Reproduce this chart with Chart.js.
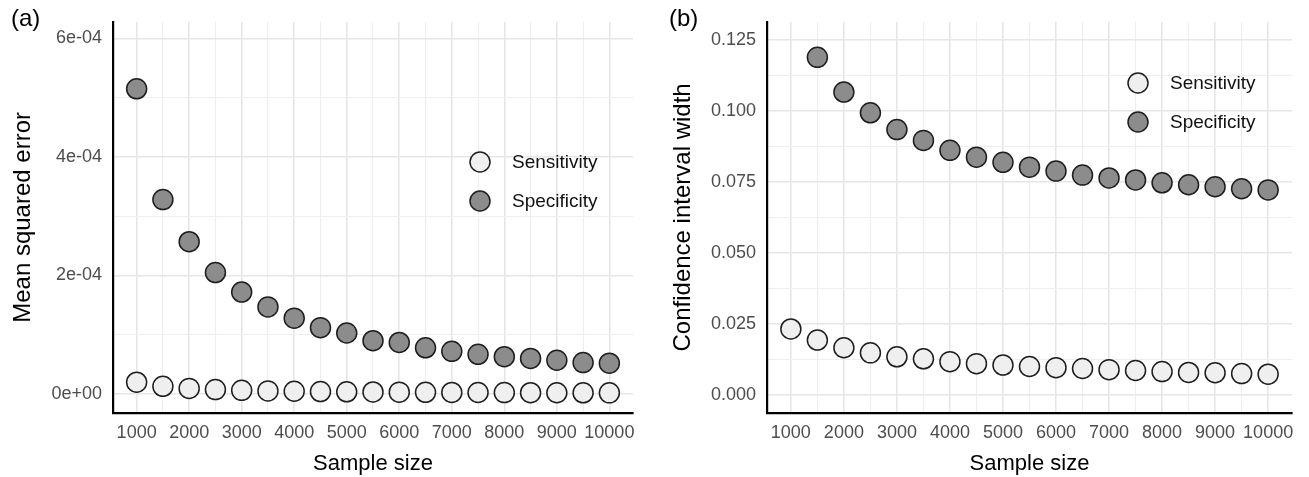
<!DOCTYPE html>
<html>
<head>
<meta charset="utf-8">
<script src="https://cdn.jsdelivr.net/npm/chart.js@4.4.1/dist/chart.umd.min.js"></script>
<style>
  html, body { margin: 0; padding: 0; background: #fff; }
  #wrap { position: relative; width: 1309px; height: 477px; overflow: hidden; }
  .panel { position: absolute; top: 0; height: 477px; }
  .tag { position: absolute; top: 4px; font: 24px "Liberation Sans", Arial, sans-serif; color: #000; }
</style>
</head>
<body>
<div id="wrap">
  <div class="panel" style="left:0;width:655px"><canvas id="ca" width="655" height="477"></canvas></div>
  <div class="panel" style="left:655px;width:654px"><canvas id="cb" width="654" height="477"></canvas></div>
  <div class="tag" style="left:11px">(a)</div>
  <div class="tag" style="left:669px">(b)</div>
</div>
<script>
// ---------------- data ----------------
const sampleSizes = [1000,1500,2000,2500,3000,3500,4000,4500,5000,5500,6000,6500,7000,7500,8000,8500,9000,9500,10000];
const seriesNames = ['Sensitivity', 'Specificity'];

// (a) mean squared error
const mseSensitivity = [2.0e-5,1.3e-5,0.95e-5,0.75e-5,0.62e-5,0.53e-5,0.47e-5,0.42e-5,0.38e-5,0.35e-5,0.32e-5,0.29e-5,0.27e-5,0.26e-5,0.24e-5,0.23e-5,0.22e-5,0.21e-5,0.2e-5];
const mseSpecificity = [5.15e-4,3.28e-4,2.57e-4,2.05e-4,1.72e-4,1.47e-4,1.28e-4,1.12e-4,1.03e-4,0.90e-4,0.87e-4,0.78e-4,0.72e-4,0.67e-4,0.63e-4,0.60e-4,0.57e-4,0.53e-4,0.52e-4];

// (b) confidence interval width
const ciSensitivity = [0.0233,0.0194,0.0167,0.0149,0.0135,0.0128,0.0118,0.0111,0.0106,0.0101,0.0097,0.0094,0.0090,0.0087,0.0083,0.0080,0.0079,0.0076,0.0074];
const ciSpecificity = [null,0.1188,0.1066,0.0993,0.0934,0.0896,0.0861,0.0837,0.0819,0.0802,0.0788,0.0774,0.0764,0.0757,0.0747,0.0740,0.0733,0.0726,0.0722];

// ticks
const xMajorTicks = [1000,2000,3000,4000,5000,6000,7000,8000,9000,10000];
const xMinorTicks = [1500,2500,3500,4500,5500,6500,7500,8500,9500];
const yTicksA = [0, 2e-4, 4e-4, 6e-4];
const yTickLabelsA = ['0e+00', '2e-04', '4e-04', '6e-04'];
const yMinorTicksA = [1e-4, 3e-4, 5e-4];
const yTicksB = [0, 0.025, 0.05, 0.075, 0.1, 0.125];
const yTickLabelsB = ['0.000', '0.025', '0.050', '0.075', '0.100', '0.125'];
const yMinorTicksB = [0.0125, 0.0375, 0.0625, 0.0875, 0.1125];

// ---------------- style ----------------
const FONT = '"Liberation Sans", Arial, sans-serif';
const fillColors = ['#efefef', '#8c8c8c'];
const edgeColor = '#1e1e1e';

function toPoints(xs, ys) {
  const out = [];
  xs.forEach((x, i) => { if (ys[i] !== null) out.push({x: x, y: ys[i]}); });
  return out;
}

function legendPlugin(pos) {
  return {
    id: 'customLegend',
    afterDraw(chart) {
      const ctx = chart.ctx;
      ctx.save();
      seriesNames.forEach((name, i) => {
        const cx = pos.x, cy = pos.y + i * 39;
        ctx.beginPath();
        ctx.arc(cx, cy, 10, 0, Math.PI * 2);
        ctx.fillStyle = fillColors[i];
        ctx.fill();
        ctx.lineWidth = 1.5;
        ctx.strokeStyle = edgeColor;
        ctx.stroke();
        ctx.fillStyle = '#111';
        ctx.font = '19px ' + FONT;
        ctx.textBaseline = 'middle';
        ctx.textAlign = 'left';
        ctx.fillText(name, pos.x + 32, cy + 1);
      });
      ctx.restore();
    }
  };
}

function makeChart(id, cfg) {
  const allY = cfg.yMajor.concat(cfg.yMinor).sort((a, b) => a - b);
  const allX = xMajorTicks.concat(xMinorTicks).sort((a, b) => a - b);
  return new Chart(document.getElementById(id), {
    type: 'scatter',
    data: {
      datasets: [
        { label: seriesNames[1], data: toPoints(sampleSizes, cfg.spec),
          backgroundColor: fillColors[1], borderColor: edgeColor, borderWidth: 1.5,
          pointRadius: 10, pointHoverRadius: 10 },
        { label: seriesNames[0], data: toPoints(sampleSizes, cfg.sens),
          backgroundColor: fillColors[0], borderColor: edgeColor, borderWidth: 1.5,
          pointRadius: 10, pointHoverRadius: 10 }
      ]
    },
    options: {
      responsive: false,
      animation: false,
      events: [],
      layout: { padding: { top: 17, right: cfg.padRight, left: 0, bottom: 0 } },
      plugins: { legend: { display: false }, tooltip: { enabled: false } },
      scales: {
        x: {
          type: 'linear', min: 550, max: 10450,
          afterBuildTicks: s => { s.ticks = allX.map(v => ({ value: v })); },
          afterFit: s => { s.height = 64; },
          ticks: {
            autoSkip: false, maxRotation: 0, padding: 9,
            color: '#4d4d4d', font: { family: FONT, size: 18 },
            callback: v => (xMajorTicks.includes(v) ? String(v) : '')
          },
          grid: {
            drawTicks: false,
            color: c => (xMajorTicks.includes(c.tick.value) ? '#e6e6e6' : '#eeeeee'),
            lineWidth: c => (xMajorTicks.includes(c.tick.value) ? 1.6 : 1.1)
          },
          border: { display: true, color: '#000', width: 2.2 },
          title: { display: true, text: 'Sample size', color: '#000',
                   font: { family: FONT, size: 22 }, padding: { top: 0, bottom: 0 } }
        },
        y: {
          type: 'linear', min: cfg.yMin, max: cfg.yMax,
          afterBuildTicks: s => { s.ticks = allY.map(v => ({ value: v })); },
          afterFit: s => { s.width = cfg.yWidth; },
          ticks: {
            autoSkip: false, padding: 11,
            color: '#4d4d4d', font: { family: FONT, size: 18 },
            callback: v => {
              const k = cfg.yMajor.findIndex(t => Math.abs(t - v) < 1e-12);
              return k >= 0 ? cfg.yLabels[k] : '';
            }
          },
          grid: {
            drawTicks: false,
            color: c => (cfg.yMajor.some(t => Math.abs(t - c.tick.value) < 1e-12) ? '#e6e6e6' : '#eeeeee'),
            lineWidth: c => (cfg.yMajor.some(t => Math.abs(t - c.tick.value) < 1e-12) ? 1.6 : 1.1)
          },
          border: { display: true, color: '#000', width: 2.2 },
          title: { display: true, text: cfg.yTitle, color: '#000',
                   font: { family: FONT, size: 24 }, padding: { top: cfg.titlePad, bottom: 0 } }
        }
      }
    },
    plugins: [legendPlugin(cfg.legend)]
  });
}

makeChart('ca', {
  sens: mseSensitivity, spec: mseSpecificity,
  yMin: -3.2e-5, yMax: 6.28e-4,
  yMajor: yTicksA, yLabels: yTickLabelsA, yMinor: yMinorTicksA,
  yTitle: 'Mean squared error', yWidth: 113, padRight: 22, titlePad: 9,
  legend: { x: 480, y: 162 }
});

makeChart('cb', {
  sens: ciSensitivity, spec: ciSpecificity,
  yMin: -0.00625, yMax: 0.1313,
  yMajor: yTicksB, yLabels: yTickLabelsB, yMinor: yMinorTicksB,
  yTitle: 'Confidence interval width', yWidth: 112, padRight: 17, titlePad: 14,
  legend: { x: 483, y: 83 }
});
</script>
</body>
</html>
